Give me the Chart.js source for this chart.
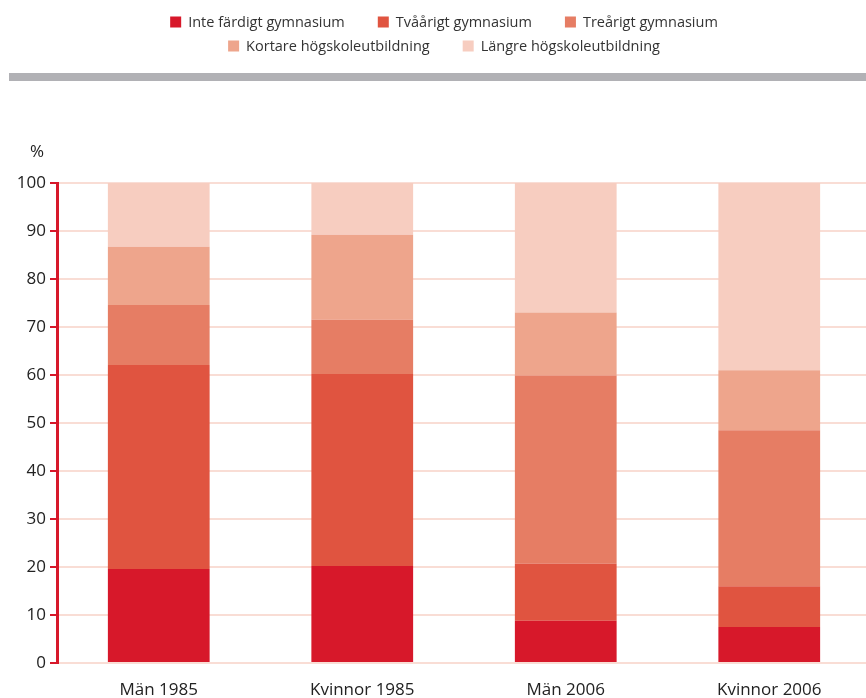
<!DOCTYPE html>
<html>
<head>
<meta charset="utf-8">
<script src="https://cdn.jsdelivr.net/npm/chart.js@4"></script>
<style>
  html, body { margin: 0; padding: 0; background: #fff; overflow: hidden; }
  #wrap { width: 880px; height: 698px; }
</style>
</head>
<body>
<div id="wrap"><canvas id="chart-bar" width="880" height="698"></canvas></div>
<script>
// Kategorier och serier (procent)
var categories = ["Män 1985", "Kvinnor 1985", "Män 2006", "Kvinnor 2006"];
var seriesNames = ["Inte färdigt gymnasium", "Tvåårigt gymnasium", "Treårigt gymnasium", "Kortare högskoleutbildning", "Längre högskoleutbildning"];
var inteFardigt = [19.6, 20.2, 8.8, 7.5];
var tvaarigt = [42.5, 40.0, 11.9, 8.5];
var trearigt = [12.5, 11.3, 39.2, 32.5];
var kortare = [12.1, 17.7, 13.1, 12.5];
var langre = [13.3, 10.8, 27.0, 39.0];
var yTicks = [0, 10, 20, 30, 40, 50, 60, 70, 80, 90, 100];

var colors = ["#d7182a", "#e05440", "#e67d64", "#eea58c", "#f7cdc0"];
var fontFamily = "'Open Sans', sans-serif";

var seriesData = [inteFardigt, tvaarigt, trearigt, kortare, langre];

// Egen legend, grå list och %-tecken
var decorPlugin = {
    id: 'decor',
    afterDraw: function (chart) {
        var c = chart.ctx;
        c.save();
        // legend i två rader
        c.font = "14.5px " + fontFamily;
        c.textBaseline = "middle";
        var rows = [[0, 1, 2], [3, 4]];
        var rowY = [22, 46];
        var box = 11, gap = 7, spacing = 33;
        rows.forEach(function (row, r) {
            var total = 0;
            row.forEach(function (i, k) {
                total += box + gap + c.measureText(seriesNames[i]).width;
                if (k > 0) total += spacing;
            });
            var x = 444 - total / 2;
            row.forEach(function (i) {
                c.fillStyle = colors[i];
                c.fillRect(x, rowY[r] - box / 2, box, box);
                x += box + gap;
                c.fillStyle = "#333";
                c.textAlign = "left";
                c.fillText(seriesNames[i], x, rowY[r] + 1);
                x += c.measureText(seriesNames[i]).width + spacing;
            });
        });
        // grå list
        c.fillStyle = "#b1b1b5";
        c.fillRect(9, 73, 871, 8);
        // procent
        c.fillStyle = "#222";
        c.font = "17px " + fontFamily;
        c.textAlign = "center";
        c.fillText("%", 37, 152);
        c.restore();
    }
};

var ctx = document.getElementById("chart-bar").getContext("2d");

new Chart(ctx, {
    type: "bar",
    data: {
        labels: categories,
        datasets: seriesData.map(function (d, i) {
            return {
                label: seriesNames[i],
                data: d,
                backgroundColor: colors[i],
                borderWidth: 0,
                barPercentage: 0.5,
                categoryPercentage: 1.0
            };
        })
    },
    options: {
        responsive: false,
        animation: false,
        layout: {
            padding: { top: 183, right: 9, left: 0, bottom: 0 }
        },
        plugins: {
            legend: { display: false },
            tooltip: { enabled: false }
        },
        scales: {
            x: {
                stacked: true,
                grid: { display: false },
                border: { display: false },
                afterFit: function (scale) { scale.height = 35; },
                ticks: {
                    color: "#222",
                    padding: 9,
                    font: { size: 17, family: fontFamily }
                }
            },
            y: {
                stacked: true,
                min: 0,
                max: 100,
                afterFit: function (scale) { scale.width = 57; },
                afterBuildTicks: function (scale) {
                    scale.ticks = yTicks.map(function (v) { return { value: v }; });
                },
                grid: {
                    color: "#f9ddd5",
                    lineWidth: 2,
                    tickColor: "#d7182a",
                    tickLength: 7
                },
                border: { color: "#d7182a", width: 3 },
                ticks: {
                    color: "#222",
                    padding: 4,
                    font: { size: 17, family: fontFamily }
                }
            }
        }
    },
    plugins: [decorPlugin]
});
</script>
</body>
</html>
